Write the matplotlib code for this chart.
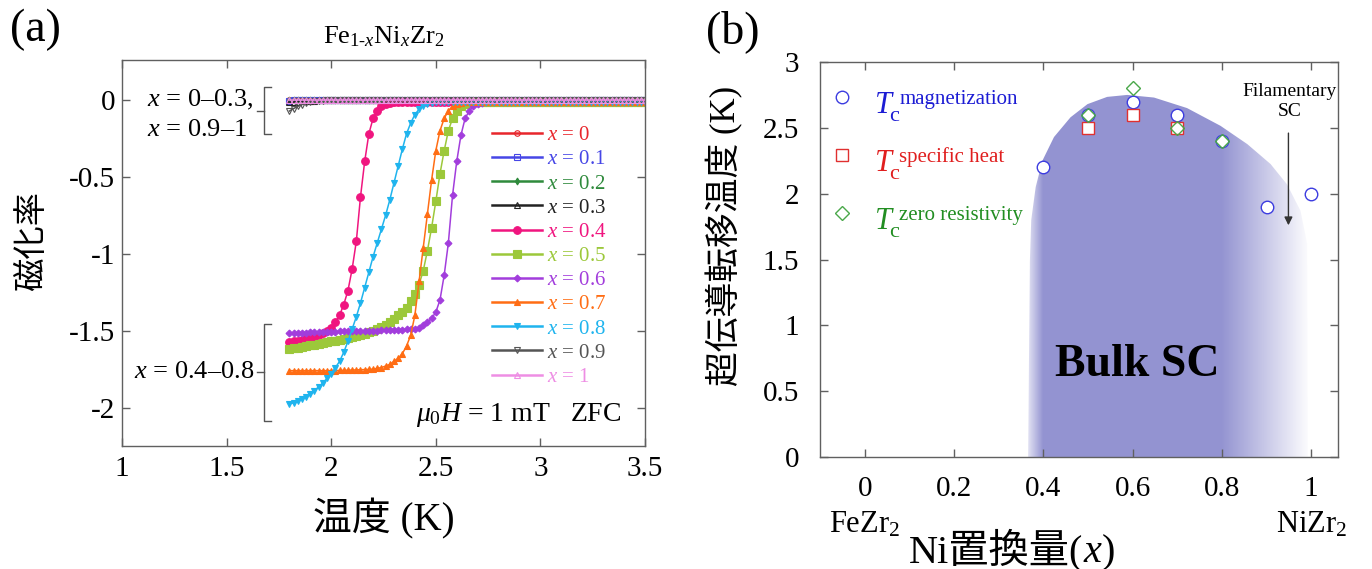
import numpy as np
import matplotlib
matplotlib.use('Agg')
import matplotlib.pyplot as plt
from matplotlib.patches import Polygon
from matplotlib.transforms import offset_copy

plt.rcParams['font.family'] = ['Liberation Serif', 'Noto Sans CJK JP']
plt.rcParams['mathtext.fontset'] = 'custom'
plt.rcParams['mathtext.rm'] = 'Liberation Serif'
plt.rcParams['mathtext.it'] = 'Liberation Serif:italic'
plt.rcParams['mathtext.bf'] = 'Liberation Serif:bold'
plt.rcParams['axes.unicode_minus'] = False

# ---------------- panel (a) data: susceptibility vs temperature ----------------
T = [1.80, 1.82, 1.84, 1.86, 1.88, 1.90, 1.92, 1.94, 1.96, 1.98,
     2.00, 2.02, 2.04, 2.06, 2.08, 2.10, 2.12, 2.14, 2.16, 2.18,
     2.20, 2.22, 2.24, 2.26, 2.28, 2.30, 2.32, 2.34, 2.36, 2.38,
     2.40, 2.42, 2.44, 2.46, 2.48, 2.50, 2.52, 2.54, 2.56, 2.58,
     2.60, 2.62, 2.64, 2.66, 2.68, 2.70, 2.72, 2.74, 2.76, 2.78,
     2.80, 2.82, 2.84, 2.86, 2.88, 2.90, 2.92, 2.94, 2.96, 2.98,
     3.00, 3.02, 3.04, 3.06, 3.08, 3.10, 3.12, 3.14, 3.16, 3.18,
     3.20, 3.22, 3.24, 3.26, 3.28, 3.30, 3.32, 3.34, 3.36, 3.38,
     3.40, 3.42, 3.44, 3.46, 3.48, 3.50]

chi_x00 = [0, 0, 0, 0, 0, 0, 0, 0, 0, 0,
           0, 0, 0, 0, 0, 0, 0, 0, 0, 0,
           0, 0, 0, 0, 0, 0, 0, 0, 0, 0,
           0, 0, 0, 0, 0, 0, 0, 0, 0, 0,
           0, 0, 0, 0, 0, 0, 0, 0, 0, 0,
           0, 0, 0, 0, 0, 0, 0, 0, 0, 0,
           0, 0, 0, 0, 0, 0, 0, 0, 0, 0,
           0, 0, 0, 0, 0, 0, 0, 0, 0, 0,
           0, 0, 0, 0, 0, 0]
chi_x01 = [-0.004, -0.003, -0.003, -0.002, -0.002, -0.002, -0.001, -0.001, -0.001, -0.001,
           0, 0, 0, 0, 0, 0, 0, 0, 0, 0,
           0, 0, 0, 0, 0, 0, 0, 0, 0, 0,
           0, 0, 0, 0, 0, 0, 0, 0, 0, 0,
           0, 0, 0, 0, 0, 0, 0, 0, 0, 0,
           0, 0, 0, 0, 0, 0, 0, 0, 0, 0,
           0, 0, 0, 0, 0, 0, 0, 0, 0, 0,
           0, 0, 0, 0, 0, 0, 0, 0, 0, 0,
           0, 0, 0, 0, 0, 0]
chi_x02 = [0, 0, 0, 0, 0, 0, 0, 0, 0, 0,
           0, 0, 0, 0, 0, 0, 0, 0, 0, 0,
           0, 0, 0, 0, 0, 0, 0, 0, 0, 0,
           0, 0, 0, 0, 0, 0, 0, 0, 0, 0,
           0, 0, 0, 0, 0, 0, 0, 0, 0, 0,
           0, 0, 0, 0, 0, 0, 0, 0, 0, 0,
           0, 0, 0, 0, 0, 0, 0, 0, 0, 0,
           0, 0, 0, 0, 0, 0, 0, 0, 0, 0,
           0, 0, 0, 0, 0, 0]
chi_x03 = [-0.014, -0.012, -0.010, -0.008, -0.006, -0.005, -0.004, -0.003, -0.002, -0.002,
           0, 0, 0, 0, 0, 0, 0, 0, 0, 0,
           0, 0, 0, 0, 0, 0, 0, 0, 0, 0,
           0, 0, 0, 0, 0, 0, 0, 0, 0, 0,
           0, 0, 0, 0, 0, 0, 0, 0, 0, 0,
           0, 0, 0, 0, 0, 0, 0, 0, 0, 0,
           0, 0, 0, 0, 0, 0, 0, 0, 0, 0,
           0, 0, 0, 0, 0, 0, 0, 0, 0, 0,
           0, 0, 0, 0, 0, 0]
chi_x04 = [-1.575, -1.570, -1.565, -1.560, -1.550, -1.545, -1.540, -1.530, -1.515, -1.500,
           -1.480, -1.445, -1.400, -1.330, -1.240, -1.100, -0.920, -0.630, -0.400, -0.220,
           -0.120, -0.070, -0.042, -0.028, -0.020, -0.015, -0.012, -0.010, -0.010, -0.010,
           -0.010, -0.010, -0.010, -0.010, -0.010, -0.010, -0.010, -0.010, -0.010, -0.010,
           -0.010, -0.010, -0.010, -0.010, -0.010, -0.010, -0.010, -0.010, -0.010, -0.010,
           -0.010, -0.010, -0.010, -0.010, -0.010, -0.010, -0.010, -0.010, -0.010, -0.010,
           -0.010, -0.010, -0.010, -0.010, -0.010, -0.010, -0.010, -0.010, -0.010, -0.010,
           -0.010, -0.010, -0.010, -0.010, -0.010, -0.010, -0.010, -0.010, -0.010, -0.010,
           -0.010, -0.010, -0.010, -0.010, -0.010, -0.010]
chi_x05 = [-1.620, -1.615, -1.610, -1.605, -1.600, -1.595, -1.590, -1.585, -1.580, -1.575,
           -1.570, -1.565, -1.560, -1.555, -1.548, -1.540, -1.535, -1.525, -1.520, -1.510,
           -1.500, -1.490, -1.475, -1.460, -1.445, -1.425, -1.400, -1.380, -1.350, -1.310,
           -1.260, -1.200, -1.110, -0.980, -0.830, -0.660, -0.480, -0.330, -0.200, -0.120,
           -0.070, -0.040, -0.025, -0.018, -0.014, -0.012, -0.010, -0.010, -0.010, -0.010,
           -0.010, -0.010, -0.010, -0.010, -0.010, -0.010, -0.010, -0.010, -0.010, -0.010,
           -0.010, -0.010, -0.010, -0.010, -0.010, -0.010, -0.010, -0.010, -0.010, -0.010,
           -0.010, -0.010, -0.010, -0.010, -0.010, -0.010, -0.010, -0.010, -0.010, -0.010,
           -0.010, -0.010, -0.010, -0.010, -0.010, -0.010]
chi_x06 = [-1.515, -1.515, -1.513, -1.512, -1.512, -1.511, -1.510, -1.510, -1.509, -1.508,
           -1.507, -1.506, -1.505, -1.505, -1.504, -1.503, -1.502, -1.502, -1.501, -1.500,
           -1.500, -1.499, -1.498, -1.497, -1.496, -1.495, -1.494, -1.493, -1.492, -1.491,
           -1.490, -1.480, -1.465, -1.445, -1.420, -1.380, -1.300, -1.140, -0.930, -0.620,
           -0.400, -0.230, -0.120, -0.070, -0.040, -0.025, -0.018, -0.014, -0.012, -0.010,
           -0.010, -0.010, -0.010, -0.010, -0.010, -0.010, -0.010, -0.010, -0.010, -0.010,
           -0.010, -0.010, -0.010, -0.010, -0.010, -0.010, -0.010, -0.010, -0.010, -0.010,
           -0.010, -0.010, -0.010, -0.010, -0.010, -0.010, -0.010, -0.010, -0.010, -0.010,
           -0.010, -0.010, -0.010, -0.010, -0.010, -0.010]
chi_x07 = [-1.760, -1.760, -1.760, -1.760, -1.760, -1.760, -1.760, -1.760, -1.760, -1.760,
           -1.760, -1.760, -1.758, -1.758, -1.757, -1.756, -1.755, -1.754, -1.753, -1.752,
           -1.750, -1.745, -1.740, -1.730, -1.720, -1.700, -1.680, -1.650, -1.600, -1.530,
           -1.400, -1.180, -0.960, -0.740, -0.520, -0.330, -0.200, -0.120, -0.070, -0.040,
           -0.025, -0.018, -0.014, -0.012, -0.010, -0.010, -0.010, -0.010, -0.010, -0.010,
           -0.010, -0.010, -0.010, -0.010, -0.010, -0.010, -0.010, -0.010, -0.010, -0.010,
           -0.010, -0.010, -0.010, -0.010, -0.010, -0.010, -0.010, -0.010, -0.010, -0.010,
           -0.010, -0.010, -0.010, -0.010, -0.010, -0.010, -0.010, -0.010, -0.010, -0.010,
           -0.010, -0.010, -0.010, -0.010, -0.010, -0.010]
chi_x08 = [-1.975, -1.970, -1.960, -1.945, -1.930, -1.910, -1.890, -1.865, -1.840, -1.810,
           -1.780, -1.740, -1.700, -1.640, -1.570, -1.490, -1.410, -1.320, -1.220, -1.120,
           -1.020, -0.930, -0.840, -0.750, -0.650, -0.540, -0.430, -0.320, -0.220, -0.150,
           -0.095, -0.060, -0.040, -0.028, -0.020, -0.015, -0.012, -0.010, -0.010, -0.010,
           -0.010, -0.010, -0.010, -0.010, -0.010, -0.010, -0.010, -0.010, -0.010, -0.010,
           -0.010, -0.010, -0.010, -0.010, -0.010, -0.010, -0.010, -0.010, -0.010, -0.010,
           -0.010, -0.010, -0.010, -0.010, -0.010, -0.010, -0.010, -0.010, -0.010, -0.010,
           -0.010, -0.010, -0.010, -0.010, -0.010, -0.010, -0.010, -0.010, -0.010, -0.010,
           -0.010, -0.010, -0.010, -0.010, -0.010, -0.010]
chi_x09 = [-0.072, -0.056, -0.042, -0.030, -0.020, -0.013, -0.008, -0.005, -0.004, -0.003,
           -0.002, -0.002, -0.002, -0.002, -0.002, -0.001, -0.001, -0.001, -0.001, -0.001,
           0, 0, 0, 0, 0, 0, 0, 0, 0, 0,
           0, 0, 0, 0, 0, 0, 0, 0, 0, 0,
           0, 0, 0, 0, 0, 0, 0, 0, 0, 0,
           0, 0, 0, 0, 0, 0, 0, 0, 0, 0,
           0, 0, 0, 0, 0, 0, 0, 0, 0, 0,
           0, 0, 0, 0, 0, 0, 0, 0, 0, 0,
           0, 0, 0, 0, 0, 0]
chi_x10 = [0, 0, 0, 0, 0, 0, 0, 0, 0, 0,
           0, 0, 0, 0, 0, 0, 0, 0, 0, 0,
           0, 0, 0, 0, 0, 0, 0, 0, 0, 0,
           0, 0, 0, 0, 0, 0, 0, 0, 0, 0,
           0, 0, 0, 0, 0, 0, 0, 0, 0, 0,
           0, 0, 0, 0, 0, 0, 0, 0, 0, 0,
           0, 0, 0, 0, 0, 0, 0, 0, 0, 0,
           0, 0, 0, 0, 0, 0, 0, 0, 0, 0,
           0, 0, 0, 0, 0, 0]

series_values = [chi_x00, chi_x01, chi_x02, chi_x03, chi_x04, chi_x05,
                 chi_x06, chi_x07, chi_x08, chi_x09, chi_x10]
series_labels = ['0', '0.1', '0.2', '0.3', '0.4', '0.5', '0.6', '0.7', '0.8', '0.9', '1']
series_colors = ['#e8262c', '#4646e6', '#2f8a3c', '#222222', '#f0157f', '#9cc83a',
                 '#a23ddc', '#ff6d14', '#1fb4ee', '#555555', '#ee8ee4']
series_markers = ['o', 's', 'd', '^', 'o', 's', 'D', '^', 'v', 'v', '^']
series_filled = [False, False, True, False, True, True, True, True, True, False, False]
series_ms = [4.0, 4.0, 3.5, 4.0, 5.5, 5.5, 3.5, 5.0, 5.0, 4.5, 4.5]

# ---------------- panel (b) data: Tc vs Ni content ----------------
x_mag = [0.4, 0.5, 0.6, 0.7, 0.8, 0.9, 1.0]
tc_mag = [2.2, 2.6, 2.7, 2.6, 2.4, 1.9, 2.0]
x_heat = [0.5, 0.6, 0.7]
tc_heat = [2.5, 2.6, 2.5]
x_res = [0.5, 0.6, 0.7, 0.8]
tc_res = [2.6, 2.8, 2.5, 2.4]

dome_x = [0.366, 0.370, 0.373, 0.383, 0.398, 0.424, 0.461, 0.499, 0.543, 0.588,
          0.648, 0.722, 0.797, 0.857, 0.909, 0.946, 0.976, 0.991, 0.993]
dome_tc = [0.0, 1.49, 1.80, 2.05, 2.25, 2.43, 2.58, 2.68, 2.735, 2.75,
           2.73, 2.65, 2.515, 2.376, 2.225, 2.07, 1.87, 1.62, 0.0]
grad_x = [0.366, 0.40, 0.80, 0.88, 0.95, 1.0]
grad_a = [0.25, 1.0, 1.0, 0.6, 0.25, 0.0]

# ---------------- figure ----------------
fig = plt.figure(figsize=(13.72, 5.69), dpi=100)
W, H = 1372, 569
axA = fig.add_axes([122 / W, 1 - 446 / H, (645 - 122) / W, (446 - 60) / H])
axB = fig.add_axes([820 / W, 1 - 457 / H, (1338 - 820) / W, (457 - 62) / H])

spine_c = '#606060'
for ax in (axA, axB):
    for s in ax.spines.values():
        s.set_color(spine_c)
        s.set_linewidth(1.0)
    ax.tick_params(direction='in', length=6, width=1, color=spine_c,
                   top=True, right=True, labelsize=21, labelcolor='black')

# ----- panel (a) -----
for vals, lab, c, m, f, ms in zip(series_values, series_labels, series_colors,
                                  series_markers, series_filled, series_ms):
    axA.plot(T, vals, color=c, lw=1.1, marker=m, ms=ms,
             mfc=c if f else 'none', mec=c, mew=0.8, label=f'$x$ = {lab}')

axA.set_xlim(1, 3.5)
axA.set_ylim(-2.25, 0.26)
axA.set_xticks([1, 1.5, 2, 2.5, 3, 3.5])
axA.set_xticklabels(['1', '1.5', '2', '2.5', '3', '3.5'])
axA.set_yticks([0, -0.5, -1, -1.5, -2])
axA.set_yticklabels(['0', '-0.5', '-1', '-1.5', '-2'])
axA.tick_params(axis='x', pad=7)
axA.tick_params(axis='y', pad=5)
axA.set_xlabel('温度 (K)', fontsize=28)
axA.xaxis.set_label_coords(0.5, -0.135)
axA.set_ylabel('磁化率', fontsize=24)
axA.yaxis.set_label_coords(-0.141, 0.53)

leg = axA.legend(loc='upper left', bbox_to_anchor=(0.707, 0.83), frameon=False,
                 fontsize=15, handlelength=2.4, handletextpad=0.25, labelspacing=0.22,
                 borderpad=0, borderaxespad=0, numpoints=1, labelcolor='linecolor')
for ln in leg.get_lines():
    ln.set_linewidth(1.8)

axA.text(0.5, 1.0 + 23 / 386, r'Fe$_{1\text{-}x}$Ni$_x$Zr$_2$', transform=axA.transAxes,
         ha='center', va='center', fontsize=19)

# brackets
br_c = '#555555'
axA.plot([1.714, 1.681, 1.681, 1.714], [0.087, 0.087, -0.221, -0.221], color=br_c, lw=1)
axA.plot([1.646, 1.681], [-0.07, -0.07], color=br_c, lw=1)
axA.plot([1.714, 1.681, 1.681, 1.714], [-1.455, -1.455, -2.085, -2.085], color=br_c, lw=1)
axA.plot([1.646, 1.681], [-1.77, -1.77], color=br_c, lw=1)
axA.text(1.12, 0.0, r'$x$ = 0–0.3,', ha='left', va='center', fontsize=19)
axA.text(1.12, -0.195, r'$x$ = 0.9–1', ha='left', va='center', fontsize=19)
axA.text(1.63, -1.77, r'$x$ = 0.4–0.8', ha='right', va='center', fontsize=19)
axA.text(3.385, -2.05, r'$\mu_0H$ = 1 mT   ZFC', ha='right', va='center', fontsize=20)

# ----- panel (b) -----
shade_rgb = (0.58, 0.58, 0.82)
poly = Polygon(np.column_stack([dome_x, dome_tc]), closed=True,
               facecolor='none', edgecolor='none')
axB.add_patch(poly)
xs = np.linspace(0.36, 1.0, 640)
alpha = np.interp(xs, grad_x, grad_a)
img = np.zeros((2, xs.size, 4))
img[..., 0] = shade_rgb[0]
img[..., 1] = shade_rgb[1]
img[..., 2] = shade_rgb[2]
img[..., 3] = alpha[None, :]
im = axB.imshow(img, extent=[0.36, 1.0, 0, 3], origin='lower', aspect='auto',
                zorder=1, interpolation='bilinear')
im.set_clip_path(poly)

axB.plot(x_mag, tc_mag, ls='none', marker='o', ms=9, mfc='white', mec='#3c3ce0', mew=1.0, zorder=3)
axB.plot(x_heat, tc_heat, ls='none', marker='s', ms=9, mfc='white', mec='#e03030', mew=1.0, zorder=4)
axB.plot(x_res, tc_res, ls='none', marker='D', ms=7, mfc='none', mec='#4aa84a', mew=1.0, zorder=5)

axB.set_xlim(-0.1, 1.06)
axB.set_ylim(0, 3)
axB.set_xticks([0, 0.2, 0.4, 0.6, 0.8, 1])
axB.set_xticklabels(['0', '0.2', '0.4', '0.6', '0.8', '1'])
axB.set_yticks([0, 0.5, 1, 1.5, 2, 2.5, 3])
axB.set_yticklabels(['0', '0.5', '1', '1.5', '2', '2.5', '3'])
axB.tick_params(axis='x', pad=14)
axB.tick_params(axis='y', pad=15)
axB.set_ylabel('超伝導転移温度 (K)', fontsize=25)
axB.yaxis.set_label_coords(-0.149, 0.56)
axB.text(0, -0.172, r'FeZr$_2$', transform=axB.get_xaxis_transform(),
         ha='center', va='center', fontsize=22)
axB.text(1, -0.172, r'NiZr$_2$', transform=axB.get_xaxis_transform(),
         ha='center', va='center', fontsize=22)

# legend of panel (b)
leg_y = [2.735, 2.295, 1.85]
leg_sup = ['magnetization', 'specific heat', 'zero resistivity']
leg_txt_c = ['#1c1cd4', '#e01e1e', '#228e22']
leg_mk = ['o', 's', 'D']
leg_mk_c = ['#3c3ce0', '#e03030', '#4aa84a']
leg_mk_s = [9, 9, 7]
for yy, sup, tc_, mk, mc, msz in zip(leg_y, leg_sup, leg_txt_c, leg_mk, leg_mk_c, leg_mk_s):
    axB.plot([-0.05], [yy], ls='none', marker=mk, ms=msz, mfc='white' if mk != 'D' else 'none',
             mec=mc, mew=1.0, zorder=5)
    tT = offset_copy(axB.transData, fig=fig, x=33, y=-16, units='dots')
    tC = offset_copy(axB.transData, fig=fig, x=47, y=-24, units='dots')
    tS = offset_copy(axB.transData, fig=fig, x=57, y=-7, units='dots')
    axB.text(-0.05, yy, 'T', transform=tT, style='italic', fontsize=22, color=tc_,
             ha='left', va='baseline')
    axB.text(-0.05, yy, 'c', transform=tC, fontsize=16, color=tc_, ha='left', va='baseline')
    axB.text(-0.05, yy, sup, transform=tS, fontsize=15, color=tc_, ha='left', va='baseline')

axB.text(0.611, 0.697, 'Bulk SC', ha='center', va='center', fontsize=33,
         fontweight='bold', zorder=6)
axB.text(0.951, 2.70, 'Filamentary\nSC', ha='center', va='center', fontsize=14,
         linespacing=1.25, zorder=6)
axB.annotate('', xy=(0.949, 1.76), xytext=(0.949, 2.46),
             arrowprops=dict(arrowstyle='-|>', color='#333333', lw=1.0,
                             mutation_scale=12, shrinkA=0, shrinkB=0), zorder=6)

fig.text(35 / W, 1 - 30 / H, '(a)', ha='center', va='center', fontsize=33)
fig.text(733 / W, 1 - 32 / H, '(b)', ha='center', va='center', fontsize=33)

# x label of panel (b): mixed CJK text with italic x, built from pieces
xl_parts = ['Ni置換量(', 'x', ')']
xl_styles = ['normal', 'italic', 'normal']
xl_center_px = 1012
xl_base_px = 562
fig.canvas.draw()
renderer = fig.canvas.get_renderer()
pieces = []
for s, st in zip(xl_parts, xl_styles):
    pieces.append(fig.text(0, 1 - xl_base_px / H, s, style=st, fontsize=29,
                           ha='left', va='baseline'))
widths = [p.get_window_extent(renderer).width for p in pieces]
x0 = xl_center_px - sum(widths) / 2
for p, w in zip(pieces, widths):
    p.set_x(x0 / W)
    x0 += w

fig.savefig('out.png', dpi=100)
